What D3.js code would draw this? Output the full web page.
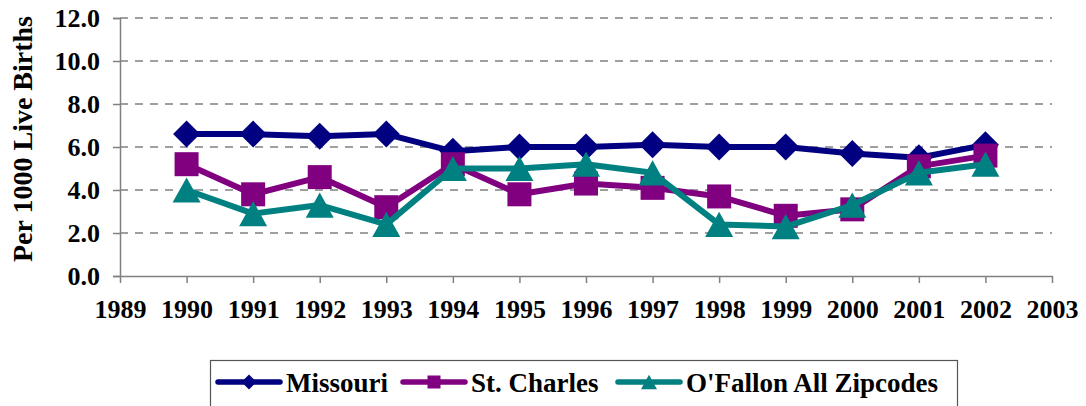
<!DOCTYPE html>
<html>
<head>
<meta charset="utf-8">
<script src="https://cdn.jsdelivr.net/npm/d3@7"></script>
<style>
  body { margin: 0; background: #fff; }
</style>
</head>
<body>
<div id="root"></div>
<script>
const width = 1086
const height = 406
const font = "'Liberation Serif', 'Times New Roman', Times, serif"

// data
const years = [1990, 1991, 1992, 1993, 1994, 1995, 1996, 1997, 1998, 1999, 2000, 2001, 2002]
const missouri = [6.6, 6.6, 6.5, 6.6, 5.8, 6.0, 6.0, 6.1, 6.0, 6.0, 5.7, 5.5, 6.1]
const stCharles = [5.2, 3.8, 4.6, 3.2, 5.2, 3.8, 4.3, 4.1, 3.7, 2.8, 3.1, 5.1, 5.6]
const oFallon = [4.0, 2.9, 3.3, 2.4, 5.0, 5.0, 5.2, 4.8, 2.4, 2.3, 3.3, 4.8, 5.2]
const xTicks = d3.range(1989, 2004)
const yTicks = [0, 2, 4, 6, 8, 10, 12]

// excel-ish marker shapes, size = full width in px
const diamond = {
  draw (ctx, s) {
    const w = s / 2, h = s * 0.5
    ctx.moveTo(0, -h); ctx.lineTo(w, 0); ctx.lineTo(0, h); ctx.lineTo(-w, 0); ctx.closePath()
  }
}
const square = {
  draw (ctx, s) {
    const r = s / 2
    ctx.rect(-r, -r, s, s)
  }
}
const triangle = {
  draw (ctx, s) {
    const w = s / 2, h = s * 0.45
    ctx.moveTo(0, -h); ctx.lineTo(w, h); ctx.lineTo(-w, h); ctx.closePath()
  }
}

const series = [
  { name: 'Missouri', values: missouri, color: '#000080', symbol: diamond, size: 27, lsize: 15 },
  { name: 'St. Charles', values: stCharles, color: '#800080', symbol: square, size: 24, lsize: 13 },
  { name: "O'Fallon All Zipcodes", values: oFallon, color: '#008080', symbol: triangle, size: 28, lsize: 16 }
]

const svg = d3.select('#root').append('svg')
  .attr('width', width)
  .attr('height', height)
  .attr('font-family', font)
  .attr('font-weight', 'bold')

const x = d3.scaleLinear().domain([1989, 2003]).range([120, 1052])
const y = d3.scaleLinear().domain([0, 12]).range([276, 18])

// gridlines
svg.append('g')
  .selectAll('line')
  .data(yTicks.filter(d => d > 0))
  .join('line')
  .attr('x1', x(1989))
  .attr('x2', x(2003))
  .attr('y1', d => y(d))
  .attr('y2', d => y(d))
  .attr('stroke', '#808080')
  .attr('stroke-width', 1.6)
  .attr('stroke-dasharray', '8,7')

// y axis
const yAxis = svg.append('g')
  .attr('transform', `translate(${x(1989)},0)`)
  .call(d3.axisLeft(y).tickValues(yTicks).tickFormat(d3.format('.1f')).tickSize(7).tickPadding(13))
yAxis.attr('font-family', font).attr('font-size', 26)
yAxis.select('.domain').attr('stroke', '#808080').attr('stroke-width', 1.5)
yAxis.selectAll('.tick line').attr('stroke', '#808080').attr('stroke-width', 1.5)
yAxis.selectAll('.tick text').attr('fill', '#000')

// x axis
const xAxis = svg.append('g')
  .attr('transform', `translate(0,${y(0)})`)
  .call(d3.axisBottom(x).tickValues(xTicks).tickFormat(d3.format('d')).tickSize(7).tickSizeOuter(0).tickPadding(17))
xAxis.attr('font-family', font).attr('font-size', 26)
xAxis.select('.domain').attr('stroke', '#808080').attr('stroke-width', 1.5)
xAxis.selectAll('.tick line').attr('stroke', '#808080').attr('stroke-width', 1.5)
xAxis.selectAll('.tick text').attr('fill', '#000')

// y title
svg.append('text')
  .attr('transform', 'translate(32,139) rotate(-90)')
  .attr('text-anchor', 'middle')
  .attr('font-size', 28)
  .text('Per 1000 Live Births')

// lines + markers
const line = d3.line()
  .x((d, i) => x(years[i]))
  .y(d => y(d))

series.forEach(s => {
  const g = svg.append('g')
  g.append('path')
    .attr('d', line(s.values))
    .attr('fill', 'none')
    .attr('stroke', s.color)
    .attr('stroke-width', 6)
    .attr('stroke-linejoin', 'round')
  g.selectAll('path.m')
    .data(s.values)
    .join('path')
    .attr('class', 'm')
    .attr('transform', (d, i) => `translate(${x(years[i])},${y(d)})`)
    .attr('d', d3.symbol(s.symbol, s.size))
    .attr('fill', s.color)
})

// legend
const legend = svg.append('g')
legend.append('rect')
  .attr('x', 210.5)
  .attr('y', 360.5)
  .attr('width', 747)
  .attr('height', 60)
  .attr('fill', '#fff')
  .attr('stroke', '#555')
  .attr('stroke-width', 1.2)

const legendX = [218, 403, 618]
series.forEach((s, i) => {
  const g = legend.append('g').attr('transform', `translate(${legendX[i]},382)`)
  g.append('line')
    .attr('x1', 0).attr('x2', 62)
    .attr('stroke', s.color)
    .attr('stroke-width', 5.5)
    .attr('stroke-linecap', 'round')
  g.append('path')
    .attr('transform', 'translate(31,0)')
    .attr('d', d3.symbol(s.symbol, s.lsize))
    .attr('fill', s.color)
  g.append('text')
    .attr('x', 68)
    .attr('y', 10)
    .attr('font-size', 27)
    .text(s.name)
})
</script>
</body>
</html>
